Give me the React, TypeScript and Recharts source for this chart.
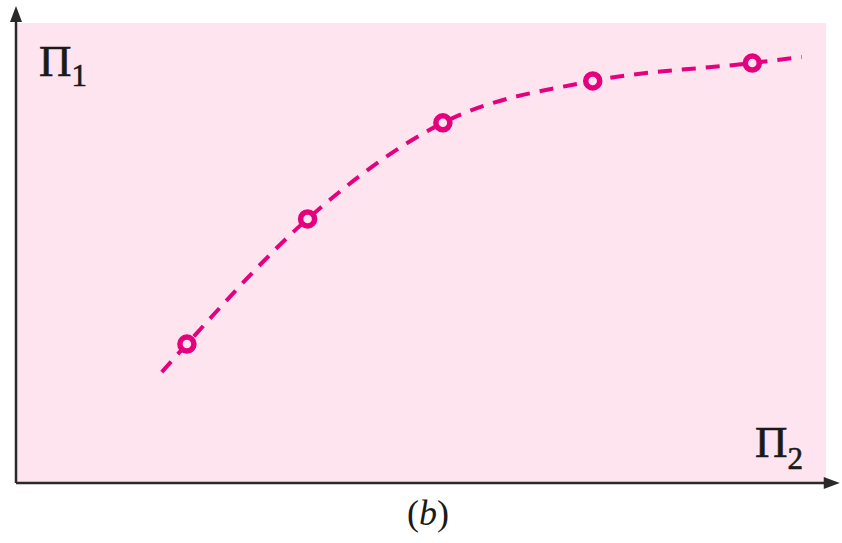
import {
  ComposedChart,
  Line,
  XAxis,
  YAxis,
  CartesianGrid,
  ReferenceLine,
  ReferenceDot,
  Customized,
} from "recharts";

// Π2 along the curve (first and last entries are only the ends of the dashed fit)
const pi2 = [18.0, 21.1, 36.0, 52.7, 71.2, 90.9, 97.0];
// Π1 of the dashed fit
const pi1Curve = [24.1, 30.2, 57.4, 78.3, 87.4, 91.3, 92.6];
// measured points (null = no marker)
const pi1Measured = [null, 30.2, 57.4, 78.3, 87.4, 91.3, null];

const data = pi2.map((x, i) => ({
  pi2: x,
  curve: pi1Curve[i],
  measured: pi1Measured[i],
}));

const MAGENTA = "#e5007d";
const BG = "#fde4ef";
const AXIS = "#2a2a2a";
const SERIF = "'Liberation Serif', 'DejaVu Serif', serif";

const ArrowRight = (props: any) => {
  const { cx, cy } = props;
  return (
    <polygon
      points={`${cx},${cy} ${cx - 16},${cy - 6} ${cx - 16},${cy + 6}`}
      fill={AXIS}
    />
  );
};

const ArrowUp = (props: any) => {
  const { cx, cy } = props;
  return (
    <polygon
      points={`${cx},${cy} ${cx - 6},${cy + 16} ${cx + 6},${cy + 16}`}
      fill={AXIS}
    />
  );
};

const Labels = () => (
  <g fontFamily={SERIF} fill="#1a1a1a">
    <text x={39} y={76} fontSize={45} stroke="#1a1a1a" strokeWidth={0.6}>
      Π<tspan fontSize={31} dy={10}>1</tspan>
    </text>
    <text x={755} y={457} fontSize={45} stroke="#1a1a1a" strokeWidth={0.6}>
      Π<tspan fontSize={31} dy={12}>2</tspan>
    </text>
    <text x={428} y={525} fontSize={36} textAnchor="middle">
      (<tspan fontStyle="italic">b</tspan>)
    </text>
  </g>
);

export default function App() {
  return (
    <div style={{ position: "absolute", left: 0, top: 0, background: "#fff" }}>
      <ComposedChart
        width={842}
        height={543}
        data={data}
        margin={{ top: 23, right: 16, bottom: 60, left: 16 }}
      >
        <CartesianGrid
          horizontal={false}
          vertical={false}
          fill={BG}
          fillOpacity={1}
        />
        <XAxis type="number" dataKey="pi2" domain={[0, 100]} hide />
        <YAxis type="number" domain={[0, 100]} hide />
        <ReferenceLine
          segment={[
            { x: 0, y: 0 },
            { x: 100.5, y: 0 },
          ]}
          ifOverflow="visible"
          stroke={AXIS}
          strokeWidth={2.5}
        />
        <ReferenceLine
          segment={[
            { x: 0, y: 0 },
            { x: 0, y: 101 },
          ]}
          ifOverflow="visible"
          stroke={AXIS}
          strokeWidth={2.5}
        />
        <ReferenceDot x={101.7} y={0} ifOverflow="visible" shape={ArrowRight} />
        <ReferenceDot x={0} y={103.7} ifOverflow="visible" shape={ArrowUp} />
        <Line
          type="monotone"
          dataKey="curve"
          stroke={MAGENTA}
          strokeWidth={4}
          strokeDasharray="14 10"
          dot={false}
          activeDot={false}
          isAnimationActive={false}
        />
        <Line
          type="monotone"
          dataKey="measured"
          stroke="none"
          dot={{ r: 7, fill: BG, stroke: MAGENTA, strokeWidth: 5.5 }}
          activeDot={false}
          connectNulls={false}
          isAnimationActive={false}
        />
        <Customized component={Labels} />
      </ComposedChart>
    </div>
  );
}
